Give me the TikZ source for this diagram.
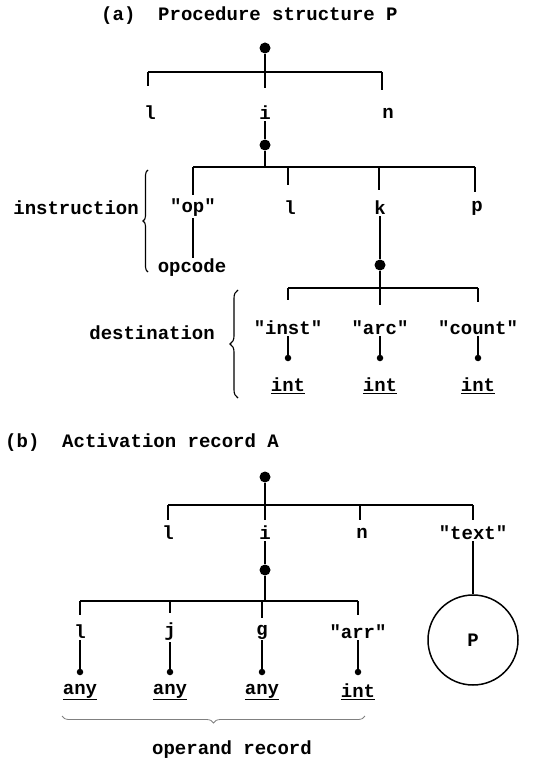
\documentclass[tikz,border=0pt]{standalone}
\usepackage{fontspec}
\setmainfont{Liberation Mono}
\setmonofont{Liberation Mono}
\usetikzlibrary{decorations.pathreplacing}
\begin{document}
\begin{tikzpicture}[x=1pt,y=-1pt,
  every node/.style={font=\fontsize{19}{22}\selectfont\ttfamily\bfseries, inner sep=1pt},
  edge/.style={line width=2.2pt},
  bigdot/.style={circle, fill, inner sep=0pt, minimum size=11pt},
  smalldot/.style={circle, fill, inner sep=0pt, minimum size=6.5pt},
  brace/.style={decorate, decoration={brace, amplitude=#1}, line width=1.1pt}]
\useasboundingbox (0,0) rectangle (533,770);

% ---------- (a) procedure structure ----------
\node[anchor=west] (titleA) at (100,16) {(a)\ \ Procedure structure P};

\node[bigdot] (aroot) at (265,48) {};
\coordinate (abarL) at (148,72);
\coordinate (abarM) at (265,72);
\coordinate (abarR) at (382,72);
\node (al) at (150,113) {l};
\node (ai) at (265,113) {i};
\node (an) at (388,113) {n};
\coordinate (atL) at (148,86);
\coordinate (atM) at (265,88);
\coordinate (atR) at (382,90);
\draw[edge] (abarL) -- (abarR);
\draw[edge] (aroot) -- (atM);
\draw[edge] (abarL) -- (atL);
\draw[edge] (abarR) -- (atR);

% instruction record
\node[bigdot] (idot) at (265,145) {};
\draw[edge] (ai) -- (idot);
\coordinate (ibarL) at (193,167);
\coordinate (ibarM) at (265,167);
\coordinate (ibarR) at (475,167);
\draw[edge] (idot) -- (ibarM);
\draw[edge] (ibarL) -- (ibarR);
\node (iop) at (193,208) {"op"};
\node (il)  at (290,208) {l};
\node (ik)  at (380,208) {k};
\node (ip)  at (477,208) {p};
\coordinate (it1) at (193,195);
\coordinate (it2) at (288,185);
\coordinate (it3) at (379,190);
\coordinate (it4) at (475,192);
\draw[edge] (ibarL) -- (it1);
\draw[edge] (288,167) -- (it2);
\draw[edge] (379,167) -- (it3);
\draw[edge] (ibarR) -- (it4);
\node (opcode) at (192,268) {opcode};
\draw[edge] (iop.south) -- (iop.south |- opcode.north);
\draw[brace=5pt] (148,272) -- (148,170);
\node[anchor=east] (instr) at (140,208) {instruction};

% destination record
\node[bigdot] (kdot) at (380,265) {};
\draw[edge] (ik) -- (kdot);
\coordinate (dbarL) at (288,288);
\coordinate (dbarM) at (380,288);
\coordinate (dbarR) at (478,288);
\draw[edge] (kdot) -- (dbarM);
\draw[line width=1.4pt] (dbarL) -- (dbarR);
\node (dinst)  at (288,328) {"inst"};
\node (darc)   at (380,328) {"arc"};
\node (dcount) at (478,328) {"count"};
\draw[edge] (dbarL) -- (288,300);
\draw[edge] (dbarM) -- (380,305);
\draw[edge] (dbarR) -- (478,302);
\node[smalldot] (ds1) at (288,358) {};
\node[smalldot] (ds2) at (380,358) {};
\node[smalldot] (ds3) at (478,358) {};
\draw[edge] (dinst) -- (ds1);
\draw[edge] (darc) -- (ds2);
\draw[edge] (dcount) -- (ds3);
\node (dint1) at (288,386) {\underline{int}};
\node (dint2) at (380,386) {\underline{int}};
\node (dint3) at (478,386) {\underline{int}};
\draw[brace=8pt] (238,398) -- (238,290);
\node[anchor=east] (dest) at (216,333) {destination};

% ---------- (b) activation record ----------
\node[anchor=west] (titleB) at (4,443) {(b)\ \ Activation record A};

\node[bigdot] (broot) at (265,477) {};
\coordinate (bbarL) at (168,505);
\coordinate (bbarM) at (265,505);
\coordinate (bbarR) at (473,505);
\draw[edge] (bbarL) -- (bbarR);
\node (bl) at (168,533) {l};
\node (bi) at (265,533) {i};
\node (bn) at (362,533) {n};
\node (btext) at (473,533) {"text"};
\draw[edge] (broot) -- (265,520);
\draw[edge] (bbarL) -- (168,520);
\draw[edge] (360,505) -- (360,520);
\draw[edge] (bbarR) -- (473,520);

% operand record
\node[bigdot] (odot) at (265,570) {};
\draw[edge] (bi) -- (odot);
\coordinate (obarL) at (80,601);
\coordinate (obarM) at (265,601);
\coordinate (obarR) at (358,601);
\draw[edge] (odot) -- (obarM);
\draw[edge] (obarL) -- (obarR);
\node (ol) at (80,632) {l};
\node (oj) at (170,632) {j};
\node (og) at (262,632) {g};
\node (oarr) at (358,632) {"arr"};
\draw[edge] (obarL) -- (80,615);
\draw[edge] (170,601) -- (170,613);
\draw[edge] (262,601) -- (262,618);
\draw[edge] (obarR) -- (358,615);
\node[smalldot] (os1) at (80,672) {};
\node[smalldot] (os2) at (170,672) {};
\node[smalldot] (os3) at (262,672) {};
\node[smalldot] (os4) at (358,672) {};
\draw[edge] (ol) -- (os1);
\draw[edge] (oj) -- (os2);
\draw[edge] (og) -- (os3);
\draw[edge] (oarr) -- (os4);
\node (oa1) at (80,692) {\underline{any}};
\node (oa2) at (170,692) {\underline{any}};
\node (oa3) at (262,692) {\underline{any}};
\node (oint) at (358,692) {\underline{int}};
\draw[brace=7pt, line width=0.8pt, gray] (365,716) -- (62,716);
\node (operand) at (232,750) {operand record};

% reference to the procedure
\node[circle, draw, line width=1.5pt, minimum size=90pt, inner sep=0pt] (pcirc) at (473,640) {P};
\draw[edge] (btext.south) -- (pcirc.north);

\end{tikzpicture}
\end{document}
